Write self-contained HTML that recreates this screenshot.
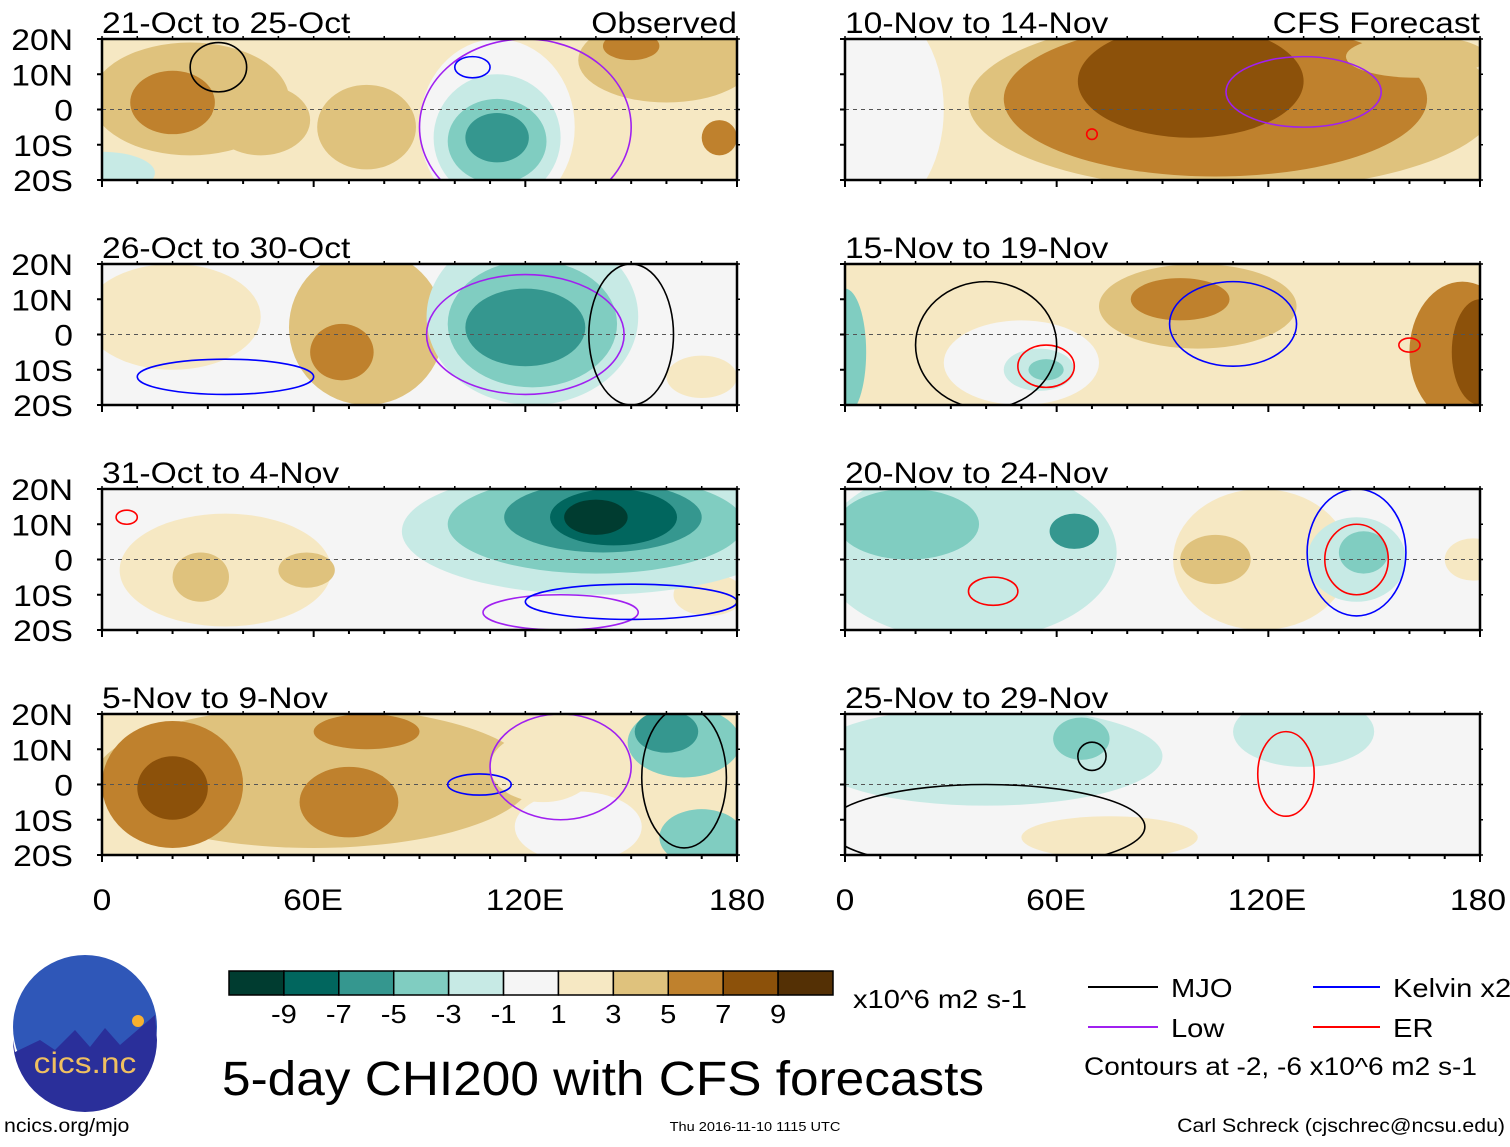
<!DOCTYPE html>
<html><head><meta charset="utf-8"><style>
html,body{margin:0;padding:0;background:#fff;}
svg text{font-family:"Liberation Sans",Arial,sans-serif;fill:#000;}
</style></head><body>
<svg id="fig" width="1510" height="1142" viewBox="0 0 1510 1142" xmlns="http://www.w3.org/2000/svg">
<g id="panels"></g>
<g id="axes">
<text x="102" y="910" font-size="30" text-anchor="middle">0</text>
<text x="313" y="910" font-size="30" text-anchor="middle">60E</text>
<text x="525" y="910" font-size="30" text-anchor="middle">120E</text>
<text x="737" y="910" font-size="30" text-anchor="middle">180</text>
<text x="845" y="910" font-size="30" text-anchor="middle">0</text>
<text x="1056" y="910" font-size="30" text-anchor="middle">60E</text>
<text x="1267" y="910" font-size="30" text-anchor="middle">120E</text>
<text x="1478" y="910" font-size="30" text-anchor="middle">180</text>
</g>
<g id="colorbar"></g>
<text x="853" y="1008" font-size="26">x10^6 m2 s-1</text>
<text id="mainTitle" x="222" y="1095" font-size="48">5-day CHI200 with CFS forecasts</text>
<g>
<line x1="1088" y1="987" x2="1158" y2="987" stroke="#000" stroke-width="2"/>
<text x="1171" y="997" font-size="26">MJO</text>
<line x1="1313" y1="987" x2="1380" y2="987" stroke="#0000ff" stroke-width="2"/>
<text x="1393" y="997" font-size="26">Kelvin x2</text>
<line x1="1088" y1="1027" x2="1158" y2="1027" stroke="#a020f0" stroke-width="2"/>
<text x="1171" y="1037" font-size="26">Low</text>
<line x1="1313" y1="1027" x2="1380" y2="1027" stroke="#ff0000" stroke-width="2"/>
<text x="1393" y="1037" font-size="26">ER</text>
<text x="1084" y="1075" font-size="25">Contours at -2, -6 x10^6 m2 s-1</text>
</g>
<g>
<circle cx="85" cy="1027" r="72" fill="#2f57b8"/>
<path d="M15,1052 L40,1040 L55,1050 L75,1030 L90,1047 L105,1028 L120,1045 L155,1015 L157,1040 A72,72 0 0 1 13,1040 Z" fill="#2a2f9a"/>
<circle cx="138" cy="1021" r="6" fill="#f7b030"/>
<text x="85" y="1073" font-size="30" text-anchor="middle" style="fill:#f0c060">cics.nc</text>
</g>
<text x="4" y="1132" font-size="19">ncics.org/mjo</text>
<text x="755" y="1131" font-size="13" text-anchor="middle">Thu 2016-11-10 1115 UTC</text>
<text x="1505" y="1132" font-size="19" text-anchor="end">Carl Schreck (cjschrec@ncsu.edu)</text>
</svg>
<script>
const levelColors = ["#003c30","#01665e","#35978f","#80cdc1","#c7eae5","#f5f5f5","#f6e8c3","#dfc27d","#bf812d","#8c510a","#543005"];
const cbLabels = ["-9","-7","-5","-3","-1","1","3","5","7","9"];
const panelTitles = ["21-Oct to 25-Oct","26-Oct to 30-Oct","31-Oct to 4-Nov","5-Nov to 9-Nov","10-Nov to 14-Nov","15-Nov to 19-Nov","20-Nov to 24-Nov","25-Nov to 29-Nov"];
const panelBg = [1,0,0,1,1,1,0,0];
// blobs: [lon, lat, rxDeg, ryDeg, level]
const blobs1 = [[0,-18,15,6,-1],[25,3,28,16,2],[20,2,12,9,3],[45,-3,14,10,2],[75,-5,14,12,2],[160,14,25,12,2],[150,18,8,4,3],[175,-8,5,5,3],[112,-5,22,25,0],[112,-8,18,18,-1],[112,-9,14,12,-2],[112,-8,9,7,-3]];
const blobs2 = [[20,5,25,15,1],[75,2,22,22,2],[68,-5,9,8,3],[122,5,30,25,-1],[122,3,24,18,-2],[120,2,17,11,-3],[170,-12,10,6,1]];
const blobs3 = [[35,-3,30,16,1],[28,-5,8,7,2],[58,-3,8,5,2],[172,-10,10,6,1],[140,8,55,18,-1],[140,10,42,14,-2],[142,12,28,10,-3],[145,12,18,8,-4],[140,12,9,5,-5]];
const blobs4 = [[60,2,62,20,2],[20,0,20,18,3],[20,-1,10,9,4],[70,-5,14,10,3],[75,15,15,5,3],[165,12,16,10,-2],[160,15,9,6,-3],[170,-15,12,8,-2],[135,-12,18,10,0],[125,5,15,10,1]];
const blobs5 = [[8,0,20,30,0],[110,2,75,25,2],[105,3,60,22,3],[98,8,32,16,4],[162,15,20,6,2]];
const blobs6 = [[0,-5,6,18,-2],[50,-8,22,12,0],[55,-10,10,6,-1],[57,-10,5,3,-2],[100,8,28,12,2],[95,10,14,6,3],[175,-5,15,20,3],[180,-5,8,15,4]];
const blobs7 = [[35,2,42,25,-1],[18,10,20,10,-2],[65,8,7,5,-3],[118,0,25,20,1],[105,0,10,7,2],[145,0,14,12,-1],[147,2,7,6,-2],[178,0,8,6,1]];
const blobs8 = [[40,8,50,14,-1],[67,13,8,6,-2],[75,-15,25,6,1],[130,15,20,10,-1]];
const allBlobs = [blobs1,blobs2,blobs3,blobs4,blobs5,blobs6,blobs7,blobs8];
// contours: [lon, lat, rxDeg, ryDeg, color]
const cont1 = [[33,12,8,7,"#000"],[105,12,5,3,"#0000ff"],[120,-5,30,25,"#a020f0"]];
const cont2 = [[120,0,28,17,"#a020f0"],[150,0,12,20,"#000"],[35,-12,25,5,"#0000ff"]];
const cont3 = [[130,-15,22,5,"#a020f0"],[150,-12,30,5,"#0000ff"],[7,12,3,2,"#ff0000"]];
const cont4 = [[107,0,9,3,"#0000ff"],[130,5,20,15,"#a020f0"],[165,2,12,20,"#000"]];
const cont5 = [[130,5,22,10,"#a020f0"],[70,-7,1.5,1.5,"#ff0000"]];
const cont6 = [[110,3,18,12,"#0000ff"],[57,-9,8,6,"#ff0000"],[40,-3,20,18,"#000"],[160,-3,3,2,"#ff0000"]];
const cont7 = [[145,0,9,10,"#ff0000"],[42,-9,7,4,"#ff0000"],[145,2,14,18,"#0000ff"]];
const cont8 = [[70,8,4,4,"#000"],[125,3,8,12,"#ff0000"],[40,-12,45,12,"#000"]];
const allConts = [cont1,cont2,cont3,cont4,cont5,cont6,cont7,cont8];

const NS = "http://www.w3.org/2000/svg";
const W = 635, H = 141;
const colX = [102, 845], rowY = [39, 264, 489, 714];
function mk(tag, attrs, parent){ const e=document.createElementNS(NS,tag); for(const k in attrs) e.setAttribute(k,attrs[k]); parent.appendChild(e); return e; }
const root = document.getElementById("panels");
for(let p=0;p<8;p++){
  const x0 = colX[p<4?0:1], y0 = rowY[p%4];
  const sx = lon => x0 + lon/180*W, sy = lat => y0 + (20-lat)/40*H;
  const g = mk("g",{},root);
  
  
  const cp = mk("clipPath",{id:"cp"+p},g);
  mk("rect",{x:x0,y:y0,width:W,height:H},cp);
  const inner = mk("g",{"clip-path":"url(#cp"+p+")"},g);
  mk("rect",{x:x0,y:y0,width:W,height:H,fill:levelColors[panelBg[p]+5]},inner);
  for(const b of allBlobs[p]){
    const e = mk("ellipse",{cx:sx(b[0]),cy:sy(b[1]),rx:b[2]/180*W,ry:b[3]/40*H,fill:levelColors[b[4]+5]},inner);
    
    
  }
  mk("line",{x1:x0,y1:sy(0),x2:x0+W,y2:sy(0),stroke:"#555","stroke-dasharray":"4,4","stroke-width":1},inner);
  for(const c of allConts[p]){
    const e = mk("ellipse",{cx:sx(c[0]),cy:sy(c[1]),rx:c[2]/180*W,ry:c[3]/40*H,fill:"none",stroke:c[4],"stroke-width":1.6},inner);
    
    
  }
  mk("rect",{x:x0,y:y0,width:W,height:H,fill:"none",stroke:"#000","stroke-width":2.5},g);
  for(let lon=0;lon<=180;lon+=10){
    const L = lon%60===0?7:4;
    mk("line",{x1:sx(lon),y1:y0+H,x2:sx(lon),y2:y0+H+L,stroke:"#000","stroke-width":2},g);
    mk("line",{x1:sx(lon),y1:y0,x2:sx(lon),y2:y0-3,stroke:"#000","stroke-width":1.5},g);
  }
  for(let lat=-20;lat<=20;lat+=10){
    mk("line",{x1:x0-5,y1:sy(lat),x2:x0,y2:sy(lat),stroke:"#000","stroke-width":2},g);
    mk("line",{x1:x0+W,y1:sy(lat),x2:x0+W+3,y2:sy(lat),stroke:"#000","stroke-width":1.5},g);
  }
  const t = mk("text",{x:x0,y:y0-6,"font-size":30},g); t.textContent = panelTitles[p];
  
  
  if(p===0||p===4){ const r = mk("text",{x:x0+W,y:y0-6,"font-size":30,"text-anchor":"end"},g); r.textContent = p===0?"Observed":"CFS Forecast"; }
  if(p<4){
    const latLabels=["20N","10N","0","10S","20S"];
    latLabels.forEach((s,i)=>{ const tt=mk("text",{x:73,y:sy(20-i*10)+11,"font-size":30,"text-anchor":"end"},g); tt.textContent=s; });
  }
}
const cb = document.getElementById("colorbar");
const cbx=229, cbw=604/11;
levelColors.forEach((c,i)=>{
  const r = mk("rect",{x:cbx+i*cbw,y:971,width:cbw,height:24,fill:c,stroke:"#000","stroke-width":1.5},cb);
  
  
});
cbLabels.forEach((s,i)=>{ const t=mk("text",{x:cbx+(i+1)*cbw,y:1023,"font-size":26,"text-anchor":"middle"},cb); t.textContent=s; });
// widen text to match reference Helvetica-like metrics
document.querySelectorAll("svg text").forEach(t=>{
  const f = t.id==="mainTitle" ? 1.07 : 1.12;
  const L = t.getComputedTextLength();
  if(L>0){ t.setAttribute("textLength", (L*f).toFixed(1)); t.setAttribute("lengthAdjust","spacingAndGlyphs"); }
});
</script>
</body></html>
